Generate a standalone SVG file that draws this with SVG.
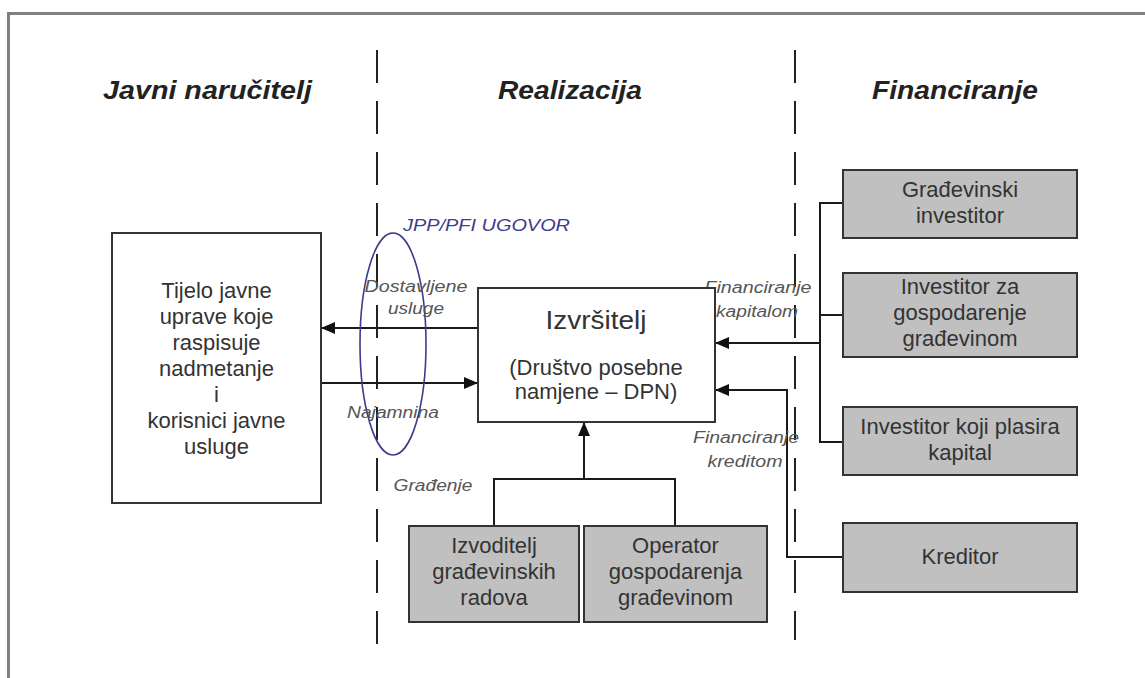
<svg xmlns="http://www.w3.org/2000/svg" width="1145" height="678" viewBox="0 0 1145 678">
<defs>
<marker id="ah" markerUnits="userSpaceOnUse" markerWidth="14" markerHeight="12" refX="13" refY="6" orient="auto">
<path d="M0,0 L14,6 L0,12 Z" fill="#111"/>
</marker>
<style>
.frame{stroke:#808080;stroke-width:3;fill:none}
.sep{stroke:#222;stroke-width:2;stroke-dasharray:33 18;fill:none}
.wbox{fill:#fff;stroke:#333;stroke-width:2}
.gbox{fill:#c0c0c0;stroke:#333;stroke-width:2}
.conn{stroke:#1a1a1a;stroke-width:2;fill:none}
.title{font-family:"Liberation Sans",Arial,sans-serif;font-size:26px;font-weight:bold;font-style:italic;fill:#222;text-anchor:middle}
.bt{font-family:"Liberation Sans",Arial,sans-serif;font-size:22px;fill:#333;text-anchor:middle}
.lbl{font-family:"Liberation Sans",Arial,sans-serif;font-size:16px;font-style:italic;fill:#555;text-anchor:middle}
.ugovor{font-family:"Liberation Sans",Arial,sans-serif;font-size:17px;font-style:italic;fill:#3c3c8c;text-anchor:middle}
</style>
</defs>
<rect width="1145" height="678" fill="#fff"/>
<path class="frame" d="M8.5,678 V13.5 H1145"/>
<g id="separators">
<line class="sep" x1="377" y1="50" x2="377" y2="662"/>
<line class="sep" x1="795" y1="50" x2="795" y2="640"/>
</g>
<g id="titles">
<text class="title" x="207.5" y="99" textLength="209" lengthAdjust="spacingAndGlyphs">Javni naručitelj</text>
<text class="title" x="570" y="99" textLength="144" lengthAdjust="spacingAndGlyphs">Realizacija</text>
<text class="title" x="955" y="99" textLength="166" lengthAdjust="spacingAndGlyphs">Financiranje</text>
</g>
<g id="connectors">
<line class="conn" x1="478" y1="328" x2="322" y2="328" marker-end="url(#ah)"/>
<line class="conn" x1="322" y1="383" x2="477" y2="383" marker-end="url(#ah)"/>
<path class="conn" d="M843,203 H820 V442 H843 M820,315 H843"/>
<line class="conn" x1="820" y1="343" x2="716" y2="343" marker-end="url(#ah)"/>
<path class="conn" d="M843,557 H787 V390 H716" marker-end="url(#ah)"/>
<path class="conn" d="M494,526 V479 H675 V526 M584,479 V423" marker-end="url(#ah)"/>
</g>
<g id="contract">
<ellipse cx="393" cy="344" rx="33" ry="111" fill="none" stroke="#3c3c8c" stroke-width="1.6"/>
<text class="ugovor" x="486.5" y="231" textLength="167" lengthAdjust="spacingAndGlyphs">JPP/PFI UGOVOR</text>
</g>
<g id="labels">
<text class="lbl" x="416" y="292" textLength="103" lengthAdjust="spacingAndGlyphs">Dostavljene</text>
<text class="lbl" x="416" y="314" textLength="56" lengthAdjust="spacingAndGlyphs">usluge</text>
<text class="lbl" x="393" y="418" textLength="92" lengthAdjust="spacingAndGlyphs">Najamnina</text>
<text class="lbl" x="758" y="293" textLength="107" lengthAdjust="spacingAndGlyphs">Financiranje</text>
<text class="lbl" x="757" y="317" textLength="82" lengthAdjust="spacingAndGlyphs">kapitalom</text>
<text class="lbl" x="746" y="443" textLength="106" lengthAdjust="spacingAndGlyphs">Financiranje</text>
<text class="lbl" x="745" y="467" textLength="75" lengthAdjust="spacingAndGlyphs">kreditom</text>
<text class="lbl" x="433" y="491" textLength="79" lengthAdjust="spacingAndGlyphs">Građenje</text>
</g>
<g id="javni-narucitelj">
<rect class="wbox" x="112" y="233" width="209" height="270"/>
<text class="bt" x="216.5" y="298">Tijelo javne</text>
<text class="bt" x="216.5" y="324">uprave koje</text>
<text class="bt" x="216.5" y="350">raspisuje</text>
<text class="bt" x="216.5" y="376">nadmetanje</text>
<text class="bt" x="216.5" y="402">i</text>
<text class="bt" x="216.5" y="428">korisnici javne</text>
<text class="bt" x="216.5" y="454">usluge</text>
</g>
<g id="izvrsitelj">
<rect class="wbox" x="478" y="288" width="237" height="134"/>
<text class="bt" x="596" y="329" style="font-size:26px" textLength="101" lengthAdjust="spacingAndGlyphs">Izvršitelj</text>
<text class="bt" x="596" y="375">(Društvo posebne</text>
<text class="bt" x="596" y="399">namjene – DPN)</text>
</g>
<g id="gradevinski-investitor">
<rect class="gbox" x="843" y="170" width="234" height="68"/>
<text class="bt" x="960" y="197">Građevinski</text>
<text class="bt" x="960" y="223">investitor</text>
</g>
<g id="investitor-gospodarenje">
<rect class="gbox" x="843" y="273" width="234" height="84"/>
<text class="bt" x="960" y="294">Investitor za</text>
<text class="bt" x="960" y="320">gospodarenje</text>
<text class="bt" x="960" y="346">građevinom</text>
</g>
<g id="investitor-kapital">
<rect class="gbox" x="843" y="407" width="234" height="68"/>
<text class="bt" x="960" y="434">Investitor koji plasira</text>
<text class="bt" x="960" y="460">kapital</text>
</g>
<g id="kreditor">
<rect class="gbox" x="843" y="523" width="234" height="69"/>
<text class="bt" x="960" y="564">Kreditor</text>
</g>
<g id="izvoditelj">
<rect class="gbox" x="409" y="526" width="170" height="96"/>
<text class="bt" x="494" y="553">Izvoditelj</text>
<text class="bt" x="494" y="579">građevinskih</text>
<text class="bt" x="494" y="605">radova</text>
</g>
<g id="operator">
<rect class="gbox" x="584" y="526" width="183" height="96"/>
<text class="bt" x="675.5" y="553">Operator</text>
<text class="bt" x="675.5" y="579">gospodarenja</text>
<text class="bt" x="675.5" y="605">građevinom</text>
</g>
</svg>
